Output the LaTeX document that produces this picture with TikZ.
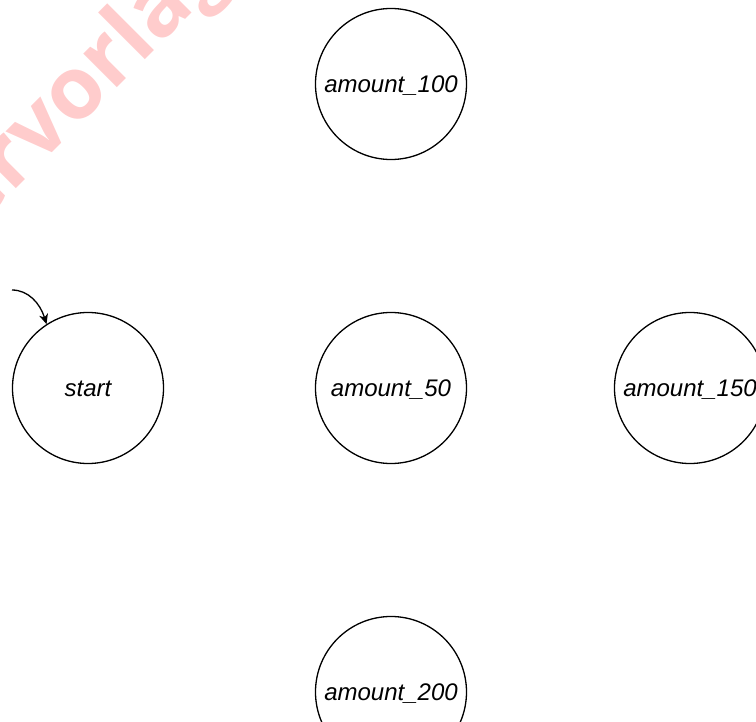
\documentclass[tikz,border=0pt]{standalone}
\usepackage{fontspec}
\setmainfont{Liberation Sans}
\newfontfamily\wmfont{Open Sans}[BoldFont={* Bold}]
\usetikzlibrary{arrows.meta,calc}
\definecolor{wmred}{RGB}{255,204,204}
\newlength\wmshift
\settowidth{\wmshift}{\wmfont\bfseries\fontsize{87}{90}\selectfont Kopiervor}
\begin{document}
\begin{tikzpicture}[x=1pt,y=-1pt,
  state/.style={draw=black, circle, line width=1.3pt, minimum size=151pt, inner sep=0pt,
    font=\fontsize{24}{28}\selectfont\itshape, text height=17pt, text depth=0pt},
  initarrow/.style={draw=black, line width=1.3pt, -{Stealth[length=10pt,width=9pt,inset=3pt]}},
  watermark/.style={text=wmred, font=\wmfont\bfseries\fontsize{87}{90}\selectfont, rotate=45, inner sep=0pt, anchor=base west}
]
\useasboundingbox (0,0) rectangle (756,722);
\clip (0,0) rectangle (756,722);
\coordinate (wmref) at (140.7,64.3);
\node[watermark] (wm) at ($(wmref)+(-0.7071\wmshift,-0.7071\wmshift)$) {Kopiervorlage};
\node[state] (start) at (88,388) {start};
\node[state] (a50) at (391,388) {amount\_50};
\node[state] (a150) at (690,388) {amount\_150};
\node[state] (a100) at (391,84) {amount\_100};
\node[state] (a200) at (391,692) {amount\_200};
\coordinate (init) at (12,290);
\draw[initarrow] (init) .. controls (28,290) and (40,303) .. (start.123);
\end{tikzpicture}
\end{document}
